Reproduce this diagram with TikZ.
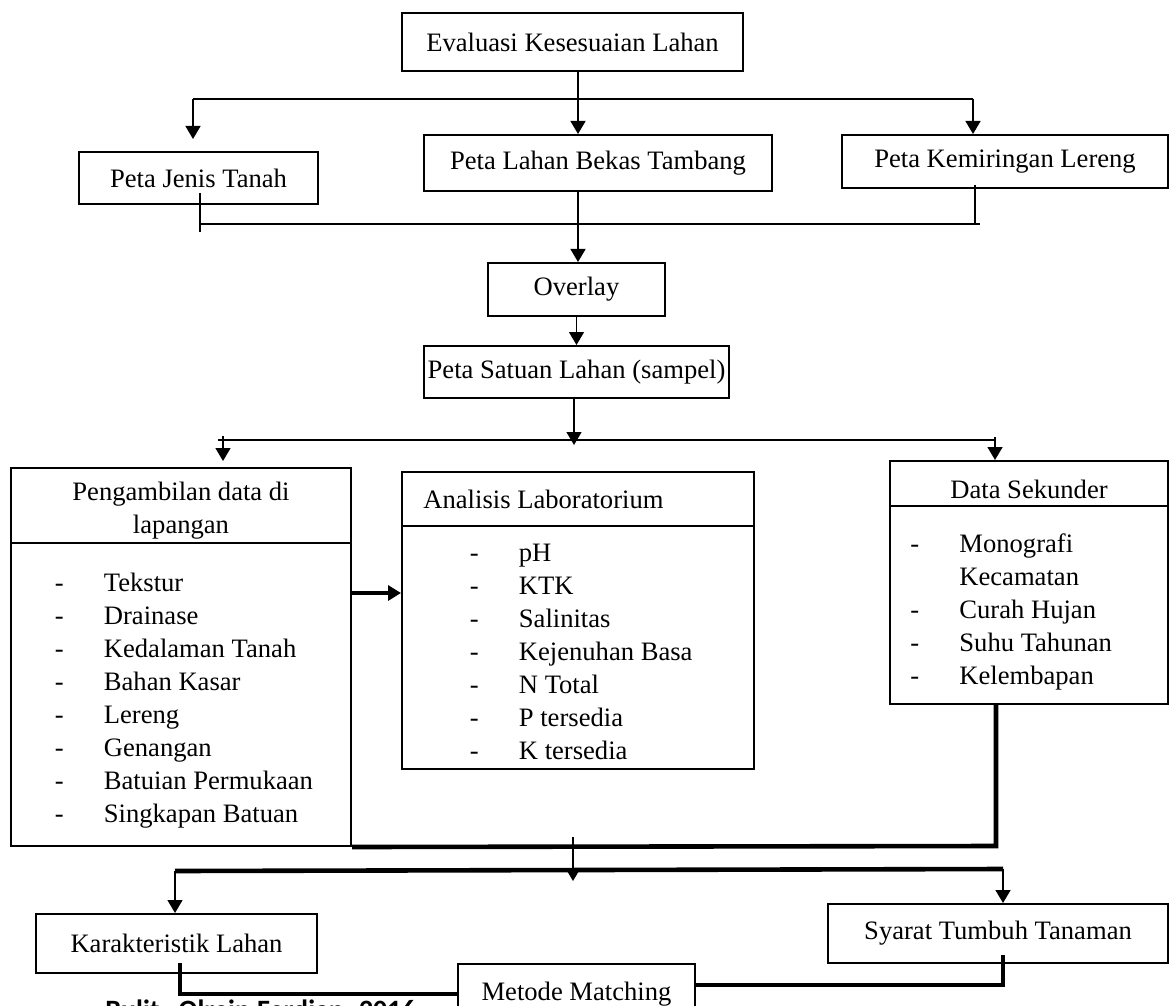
\documentclass[tikz,border=0pt]{standalone}
\usepackage{fontspec}
\setmainfont{Liberation Serif}
\newfontfamily\notefont{Carlito}
\usetikzlibrary{arrows.meta,calc}
\newcommand{\dashlist}[1]{\begin{tabular}{@{}p{24.5pt}@{}l@{}}#1\end{tabular}}

\begin{document}
\begin{tikzpicture}[x=0.5pt,y=-0.5pt,
	box/.style={draw,line width=1pt,inner sep=0pt,align=center,font=\fontsize{13.3}{16.5}\selectfont},
	txt/.style={inner sep=0pt,align=center,font=\fontsize{13.3}{16.5}\selectfont},
	link/.style={line width=0.7pt},
	heavy/.style={line width=2.3pt},
	tip/.style={-{Triangle[length=6.5pt,width=7.5pt]}}]

\useasboundingbox (0,0) rectangle (1170,1005);
\clip (0,0) rectangle (1170,1005);

\node[box,minimum width=170.5pt,minimum height=29pt] (eval) at (572.5,42) {Evaluasi Kesesuaian Lahan};

\node[box,minimum width=119.5pt,minimum height=26pt] (jenis) at (198.5,178) {Peta Jenis Tanah};
\node[box,minimum width=174pt,minimum height=28pt] (bekas) at (598,163) {Peta Lahan Bekas Tambang};
\node[box,minimum width=163pt,minimum height=26.5pt] (miring) at (1005,161.5) {Peta Kemiringan Lereng};

\node[box,minimum width=88.5pt,minimum height=26.5pt] (overlay) at (576.5,289.5) {Overlay};
\node[box,minimum width=152.5pt,minimum height=26pt] (satuan) at (576.5,372) {Peta Satuan Lahan (sampel)};

\node[box,minimum width=170pt,minimum height=189pt] (ambil) at (181,657) {};
\node[box,minimum width=176pt,minimum height=148.5pt] (lab) at (578,620.5) {};
\node[box,minimum width=139pt,minimum height=121.5pt] (sekunder) at (1029,582.5) {};

\node[txt] (ambilhead) at (181,511) {Pengambilan data di\\lapangan};
\node[txt,anchor=west] (labhead) at (423,499) {Analisis Laboratorium};
\node[txt] (sekhead) at (1029,489) {Data Sekunder};

\draw[link] ($(ambil.north west)+(0,76)$) -- ($(ambil.north east)+(0,76)$);
\draw[link] ($(lab.north west)+(0,55)$) -- ($(lab.north east)+(0,55)$);
\draw[link] ($(sekunder.north west)+(0,46)$) -- ($(sekunder.north east)+(0,46)$);

\node[txt,anchor=north west,align=left] (ambillist) at (54.5,568) {\dashlist{
	- & Tekstur\\ - & Drainase\\ - & Kedalaman Tanah\\ - & Bahan Kasar\\
	- & Lereng\\ - & Genangan\\ - & Batuian Permukaan\\ - & Singkapan Batuan}};
\node[txt,anchor=north west,align=left] (lablist) at (469.5,538) {\dashlist{
	- & pH\\ - & KTK\\ - & Salinitas\\ - & Kejenuhan Basa\\
	- & N Total\\ - & P tersedia\\ - & K tersedia}};
\node[txt,anchor=north west,align=left] (seklist) at (910,529) {\dashlist{
	- & Monografi\\ & Kecamatan\\ - & Curah Hujan\\ - & Suhu Tahunan\\ - & Kelembapan}};

\node[box,minimum width=140.5pt,minimum height=29.5pt] (karak) at (176.5,943.5) {Karakteristik Lahan};
\node[box,minimum width=170pt,minimum height=29.5pt] (syarat) at (998,933.5) {Syarat Tumbuh Tanaman};
\node[box,minimum width=118.5pt,minimum height=30pt,anchor=north] (metode) at (576.5,963) {Metode Matching};

\node[anchor=north west,inner sep=0pt,font=\notefont\bfseries\fontsize{14}{16}\selectfont] (note) at (105,999) {Bulit\hspace{9.5pt}Olrein\hspace{3.5pt}Ferdian\hspace{7.5pt}2016};

\coordinate (t1) at (193,99);
\coordinate (t2) at (578,99);
\coordinate (t3) at (973,99);
\coordinate (jenisin) at (193,139);

\draw[link] (t1) -- (t3);
\draw[link,tip] (eval.south -| t2) -- (t2 |- bekas.north);
\draw[link,tip] (t1) -- (jenisin);
\draw[link,tip] (t3) -- (t3 |- miring.north);

\coordinate (j1s) at (200,193);
\coordinate (j1) at (200,224);
\coordinate (j1e) at (200,232);
\coordinate (j3s) at (975,185);
\coordinate (j3) at (975,224);
\coordinate (j3e) at (980,224);

\draw[link] (j1s) -- (j1e);
\draw[link] (j3s) -- (j3);
\draw[link] (j1) -- (j3e);
\draw[link,tip] (bekas.south -| t2) -- (t2 |- overlay.north);
\draw[link,tip] (overlay.south) -- (overlay.south |- satuan.north);

\coordinate (s0) at (218,440);
\coordinate (s1) at (223,436);
\coordinate (s1e) at (223,461);
\coordinate (s2) at (574,445);
\coordinate (s3) at (995,437);
\coordinate (s4) at (995,440);

\draw[link] (s0) -- (s4);
\draw[link,tip] (s1) -- (s1e);
\draw[link,tip] (satuan.south -| s2) -- (s2);
\draw[link,tip] (s3) -- (s3 |- sekunder.north);

\coordinate (a1) at (351,593);
\draw[heavy,tip] (a1) -- (a1 -| lab.west);

\coordinate (b1) at (996,846);
\draw[heavy] (sekunder.south -| b1) -- (b1) -- (ambil.south east);

\coordinate (c1) at (573,837);
\coordinate (c2) at (573,881);
\draw[link,tip] (c1) -- (c2);

\coordinate (k1) at (175,871);
\coordinate (k2) at (1003,869);
\draw[heavy] (k1) -- (k2);
\draw[link,tip] (k1) -- (k1 |- karak.north);
\draw[link,tip] (k2) -- (k2 |- syarat.north);

\coordinate (q1) at (180,963);
\coordinate (q2) at (1003,955);
\coordinate (q3) at (1003,985);
\draw[heavy] (q1) -- (q1 |- metode.west) -- (metode.west);
\draw[heavy] (q2) -- (q3) -- (q3 -| metode.east);

\end{tikzpicture}
\end{document}
